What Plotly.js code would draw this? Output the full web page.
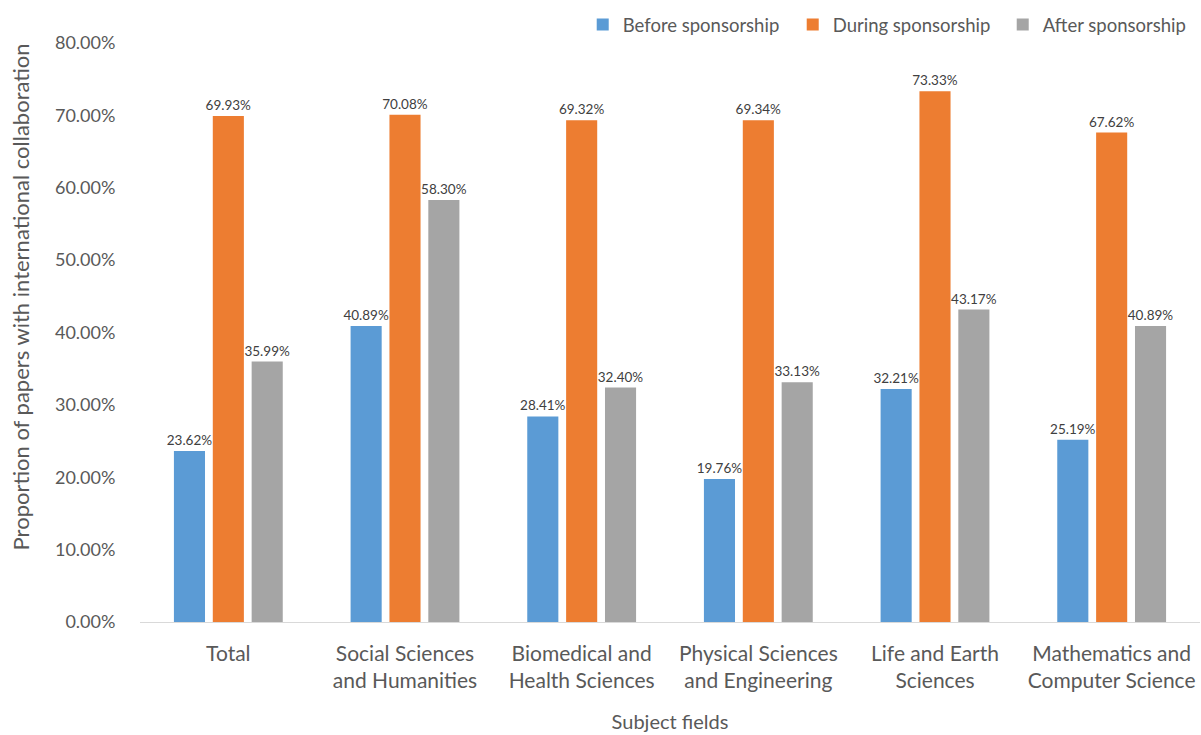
<!DOCTYPE html>
<html>
<head>
<meta charset="utf-8">
<script src="https://cdn.plot.ly/plotly-3.0.1.min.js"></script>
<style>html,body{margin:0;padding:0;background:#fff;}#chart{width:1201px;height:735px;}</style>
</head>
<body>
<div id="chart"></div>
<script>
const categories = [
  "Total",
  "Social Sciences<br>and Humanities",
  "Biomedical and<br>Health Sciences",
  "Physical Sciences<br>and Engineering",
  "Life and Earth<br>Sciences",
  "Mathematics and<br>Computer Science"
];
const seriesNames = ["Before sponsorship", "During sponsorship", "After sponsorship"];
const before = [23.62, 40.89, 28.41, 19.76, 32.21, 25.19];
const during = [69.93, 70.08, 69.32, 69.34, 73.33, 67.62];
const after  = [35.99, 58.30, 32.40, 33.13, 43.17, 40.89];
const yTicks = [0, 10, 20, 30, 40, 50, 60, 70, 80];
const colors = ["#5B9BD5", "#ED7D31", "#A5A5A5"];

const FONT = "Lato, 'Open Sans', sans-serif";
const TXT = "#595959";

function mk(name, vals, color) {
  return {
    type: "bar",
    name: name,
    x: categories,
    y: vals,
    marker: {color: color},
    text: vals.map(v => v.toFixed(2) + "%"),
    textposition: "outside",
    constraintext: "none",
    cliponaxis: false,
    textfont: {family: FONT, size: 13.5, color: "#404040"},
    hoverinfo: "skip"
  };
}

const data = [
  mk(seriesNames[0], before, colors[0]),
  mk(seriesNames[1], during, colors[1]),
  mk(seriesNames[2], after, colors[2])
];

const layout = {
  width: 1201,
  height: 735,
  margin: {l: 140, r: 1, t: 43, b: 113, autoexpand: false},
  paper_bgcolor: "#fff",
  plot_bgcolor: "#fff",
  barmode: "group",
  bargap: 0.34,
  bargroupgap: 0.2,
  font: {family: FONT, color: TXT},
  showlegend: true,
  legend: {
    orientation: "h",
    x: 1.012, xanchor: "right",
    y: 1.031, yanchor: "middle",
    font: {family: FONT, size: 18.5, color: TXT},
    itemwidth: 30,
    entrywidth: 165,
    bgcolor: "rgba(0,0,0,0)"
  },
  xaxis: {
    type: "category",
    showline: true,
    linecolor: "#D9D9D9",
    linewidth: 1.3,
    showgrid: false,
    zeroline: false,
    ticks: "outside",
    ticklen: 12,
    tickcolor: "rgba(0,0,0,0)",
    tickfont: {family: FONT, size: 21, color: TXT},
    title: {text: "Subject fields", font: {family: FONT, size: 20, color: TXT}, standoff: 24}
  },
  yaxis: {
    range: [0, 80],
    tickvals: yTicks,
    ticktext: yTicks.map(v => v.toFixed(2) + "%"),
    showgrid: false,
    zeroline: false,
    showline: false,
    ticks: "outside",
    ticklen: 20,
    tickcolor: "rgba(0,0,0,0)",
    tickfont: {family: FONT, size: 18, color: TXT}
  },
  annotations: [{
    text: "Proportion of papers with international collaboration",
    xref: "paper", yref: "paper",
    x: -0.113, y: 0.561,
    xanchor: "center", yanchor: "middle",
    textangle: -90,
    showarrow: false,
    font: {family: FONT, size: 22, color: TXT}
  }]
};

Plotly.newPlot("chart", data, layout, {displayModeBar: false, staticPlot: true});
</script>
</body>
</html>
